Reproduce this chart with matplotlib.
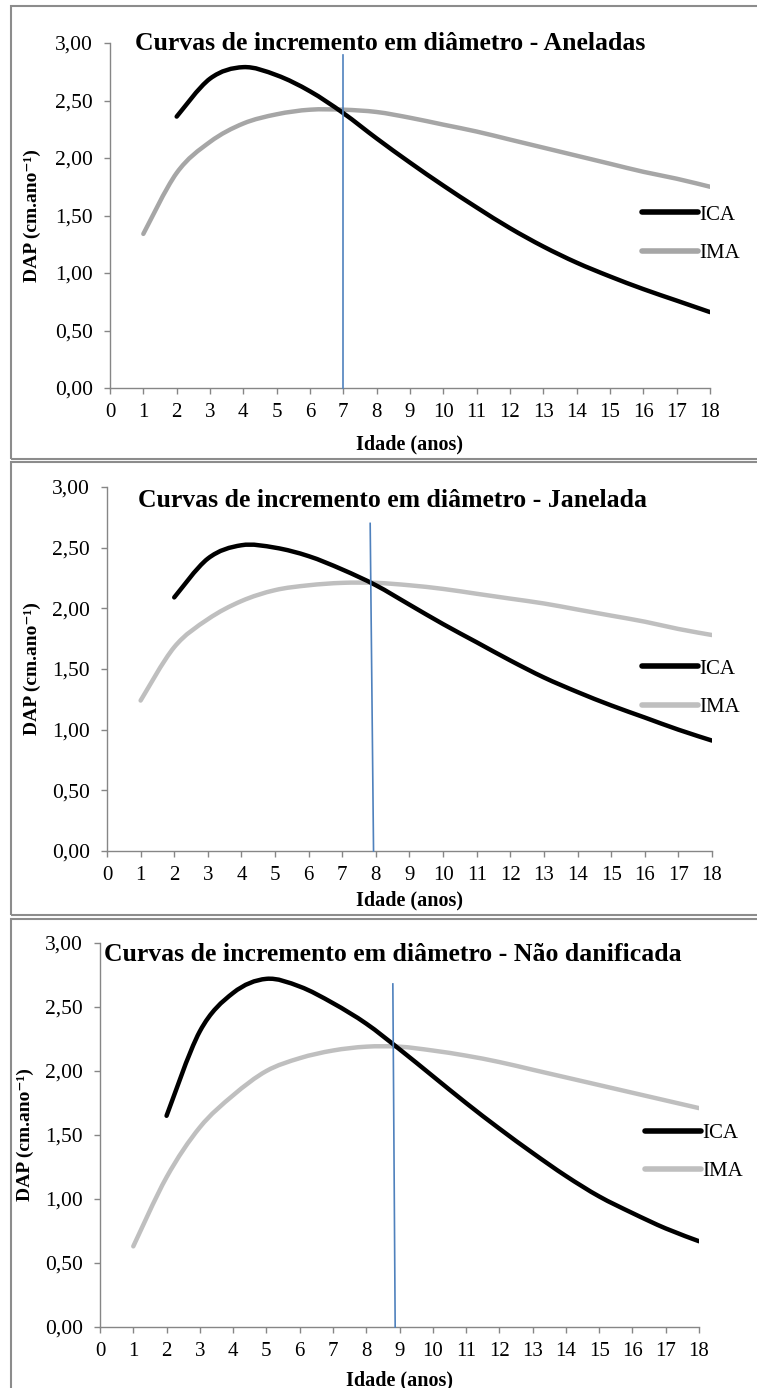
import matplotlib
matplotlib.use("Agg")
import matplotlib.pyplot as plt
from matplotlib.path import Path
from matplotlib.patches import PathPatch, Rectangle
from matplotlib.lines import Line2D
from matplotlib.ticker import FuncFormatter
import numpy as np

plt.rcParams['font.family'] = ['Liberation Serif', 'DejaVu Serif']

# ---------------- data ----------------
ages_ica = [2, 3, 4, 5, 6, 7, 8, 9, 10, 11, 12, 13, 14, 15, 16, 17, 18]
ages_ima = [1, 2, 3, 4, 5, 6, 7, 8, 9, 10, 11, 12, 13, 14, 15, 16, 17, 18]

titles = ["Curvas de incremento em diâmetro - Aneladas",
          "Curvas de incremento em diâmetro - Janelada",
          "Curvas de incremento em diâmetro - Não danificada"]

ica_aneladas = [2.36, 2.69, 2.79, 2.72, 2.58, 2.39, 2.17, 1.96, 1.76, 1.57, 1.39, 1.23, 1.09, 0.97, 0.86, 0.76, 0.66]
ima_aneladas = [1.34, 1.87, 2.14, 2.30, 2.38, 2.42, 2.42, 2.40, 2.35, 2.29, 2.23, 2.16, 2.09, 2.02, 1.95, 1.88, 1.82, 1.75]

ica_janelada = [2.09, 2.41, 2.52, 2.50, 2.43, 2.32, 2.19, 2.03, 1.87, 1.72, 1.57, 1.43, 1.31, 1.20, 1.10, 1.00, 0.91]
ima_janelada = [1.24, 1.68, 1.91, 2.06, 2.15, 2.19, 2.21, 2.21, 2.19, 2.16, 2.12, 2.08, 2.04, 1.99, 1.94, 1.89, 1.83, 1.78]

ica_nao = [1.65, 2.31, 2.61, 2.72, 2.66, 2.53, 2.37, 2.17, 1.96, 1.75, 1.55, 1.36, 1.18, 1.02, 0.89, 0.77, 0.67]
ima_nao = [0.63, 1.17, 1.56, 1.81, 2.00, 2.10, 2.16, 2.19, 2.19, 2.16, 2.12, 2.07, 2.01, 1.95, 1.89, 1.83, 1.77, 1.71]

# vertical reference lines (x at bottom/top, y at bottom/top)
vline_aneladas_x = [7.0, 7.0]
vline_aneladas_y = [0.0, 2.90]
vline_janelada_x = [7.93, 7.83]
vline_janelada_y = [0.0, 2.70]
vline_nao_x = [8.87, 8.80]
vline_nao_y = [0.0, 2.68]

series_labels = ["ICA", "IMA"]
xticks = list(range(0, 19))
yticks = [0.0, 0.5, 1.0, 1.5, 2.0, 2.5, 3.0]

# ---------------- styles ----------------
W, H = 757, 1388
DPI = 100
ICA_COLOR = "black"
IMA_COLORS = ["#a6a6a6", "#bfbfbf", "#bfbfbf"]
VLINE_COLOR = "#4f81bd"
AXIS_COLOR = "#868686"
BOX_COLOR = "#8c8c8c"

# axes placement (pixels): left, right(x=18), top(y=3), bottom(y=0)
axes_px = [(110, 710, 43, 388), (107, 712, 487, 851), (100, 699, 943, 1327)]
title_pos = [(0.042, 1.0), (0.051, 0.964), (0.007, 0.969)]
xlabel_y = [-0.165, -0.135, -0.138]
ylabel_x = [-0.13, -0.123, -0.124]
legend_anchor = [(0.887, 0.446), (0.884, 0.448), (0.910, 0.455)]
boxes_px = [(11, 6, 459), (11, 462, 915), (11, 919, 1395)]


def smooth_path(xs, ys):
    """Catmull-Rom style Bezier path through the data points (Excel smoothed line)."""
    pts = np.column_stack([xs, ys]).astype(float)
    n = len(pts)
    verts = [pts[0]]
    codes = [Path.MOVETO]
    for i in range(n - 1):
        p0 = pts[i - 1] if i > 0 else pts[i]
        p1 = pts[i]
        p2 = pts[i + 1]
        p3 = pts[i + 2] if i + 2 < n else pts[i + 1]
        c1 = p1 + (p2 - p0) / 6.0
        c2 = p2 - (p3 - p1) / 6.0
        verts += [c1, c2, p2]
        codes += [Path.CURVE4] * 3
    return Path(verts, codes)


fig = plt.figure(figsize=(W / DPI, H / DPI), dpi=DPI)

# panel boxes
for (x0, y0, y1) in boxes_px:
    fig.patches.append(Rectangle((x0 / W, 1 - y1 / H), (W + 10 - x0) / W, (y1 - y0) / H,
                                 transform=fig.transFigure, fill=False,
                                 edgecolor=BOX_COLOR, linewidth=1.5, zorder=0))

panels = [
    (ica_aneladas, ima_aneladas, vline_aneladas_x, vline_aneladas_y),
    (ica_janelada, ima_janelada, vline_janelada_x, vline_janelada_y),
    (ica_nao, ima_nao, vline_nao_x, vline_nao_y),
]

fmt = FuncFormatter(lambda v, p: f"{v:.2f}".replace(".", ","))

for k, (ica, ima, vx, vy) in enumerate(panels):
    l, r, t, b = axes_px[k]
    ax = fig.add_axes([l / W, 1 - b / H, (r - l) / W, (b - t) / H])
    ax.set_xlim(0, 18)
    ax.set_ylim(0, 3)

    ax.add_patch(PathPatch(smooth_path(ages_ima, ima), fill=False, edgecolor=IMA_COLORS[k],
                           linewidth=3.2, capstyle='round', joinstyle='round', zorder=3))
    ax.add_patch(PathPatch(smooth_path(ages_ica, ica), fill=False, edgecolor=ICA_COLOR,
                           linewidth=3.2, capstyle='round', joinstyle='round', zorder=4))
    ax.plot(vx, vy, color=VLINE_COLOR, linewidth=1.2, zorder=5, clip_on=False)

    for s in ["top", "right"]:
        ax.spines[s].set_visible(False)
    for s in ["left", "bottom"]:
        ax.spines[s].set_color(AXIS_COLOR)
        ax.spines[s].set_linewidth(1.0)

    ax.set_xticks(xticks)
    ax.set_yticks(yticks)
    ax.yaxis.set_major_formatter(fmt)
    ax.tick_params(axis='both', direction='out', length=4.5, width=1.0, color=AXIS_COLOR,
                   labelcolor='black')
    ax.tick_params(axis='x', labelsize=15, pad=6)
    ax.tick_params(axis='y', labelsize=15.5, pad=8)

    ax.set_xlabel("Idade (anos)", fontsize=14.5, fontweight='bold')
    ax.xaxis.set_label_coords(0.5, xlabel_y[k])
    ax.xaxis.label.set_va('center')
    ax.set_ylabel("DAP (cm.ano⁻¹)", fontsize=14, fontweight='bold')
    ax.yaxis.set_label_coords(ylabel_x[k], 0.5)
    ax.yaxis.label.set_va('center')

    ax.text(title_pos[k][0], title_pos[k][1], titles[k], transform=ax.transAxes,
            fontsize=18.5, fontweight='bold', ha='left', va='center', zorder=6)

    handles = [Line2D([], [], color=ICA_COLOR, linewidth=4, solid_capstyle='round'),
               Line2D([], [], color=IMA_COLORS[k], linewidth=4, solid_capstyle='round')]
    ax.legend(handles, series_labels, loc='center left', bbox_to_anchor=legend_anchor[k],
              frameon=False, fontsize=15, handlelength=2.7, handletextpad=0.05,
              labelspacing=0.9, borderpad=0, borderaxespad=0)

fig.savefig("out.png", dpi=DPI)
